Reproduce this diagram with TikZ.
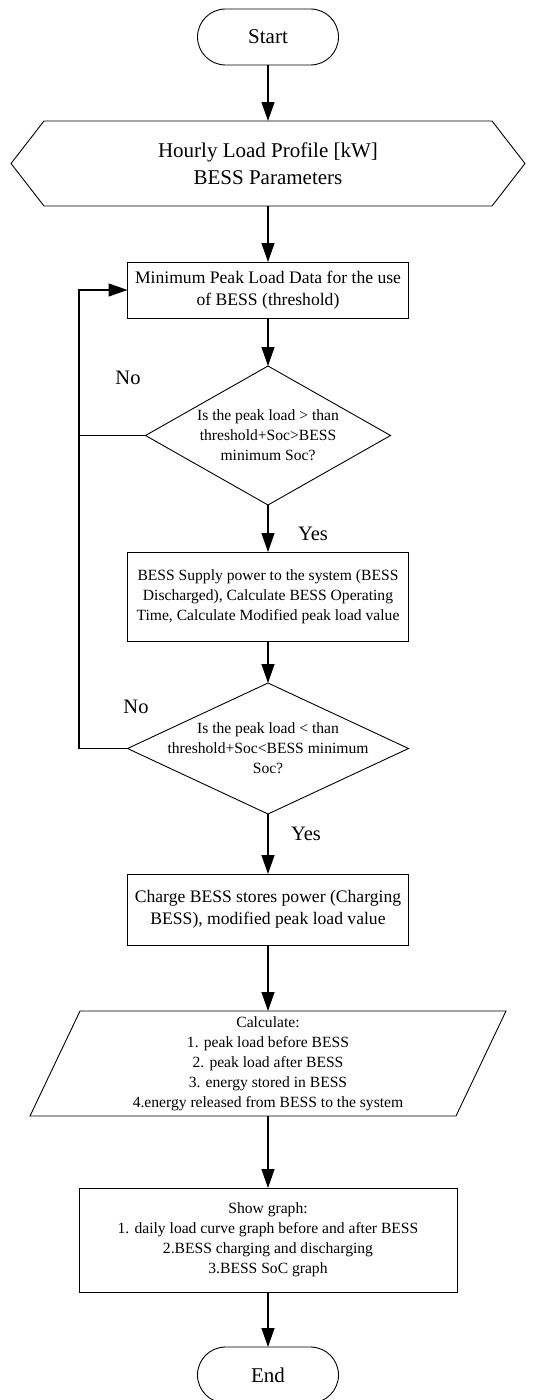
\documentclass[tikz,border=0pt]{standalone}
\usepackage{fontspec}
\setmainfont{Liberation Serif}
\usetikzlibrary{arrows.meta}
\begin{document}
\begin{tikzpicture}[x=1pt,y=-1pt,
  shp/.style={line width=0.9pt},
  ghost/.style={draw=none, inner sep=0pt, outer sep=0pt, align=center},
  stepbox/.style={draw, line width=0.9pt, inner sep=0pt, outer sep=0pt, align=center},
  term/.style={draw, line width=0.9pt, rounded corners=28pt, inner sep=0pt, outer sep=0pt,
    minimum width=141pt, minimum height=56pt, font=\fontsize{21}{26.7}\selectfont},
  big/.style={font=\fontsize{21}{26.7}\selectfont},
  med/.style={font=\fontsize{17.6}{22}\selectfont},
  sml/.style={font=\fontsize{15.6}{20}\selectfont},
  arr/.style={line width=1.3pt, -{Triangle[length=19pt,width=13pt]}},
  lbl/.style={inner sep=0pt, font=\fontsize{20.5}{24}\selectfont}
]
\useasboundingbox[fill=white] (0,0) rectangle (556,1400);

\node[term] (start) at (268,37) {Start};

\node[ghost, big, minimum width=514pt, minimum height=85pt] (hex) at (268,163.5)
  {Hourly Load Profile [kW]\\BESS Parameters};
\draw[shp] ([xshift=33pt]hex.north west) -- ([xshift=-33pt]hex.north east) -- (hex.east)
  -- ([xshift=-33pt]hex.south east) -- ([xshift=33pt]hex.south west) -- (hex.west) -- cycle;

\node[stepbox, med, minimum width=281pt, minimum height=56pt] (box1) at (268,290)
  {Minimum Peak Load Data for the use\\of BESS (threshold)};

\node[ghost, sml, minimum width=245pt, minimum height=139pt] (d1) at (268,435.5)
  {Is the peak load > than\\threshold+Soc>BESS\\minimum Soc?};
\draw[shp] (d1.north) -- (d1.east) -- (d1.south) -- (d1.west) -- cycle;

\node[stepbox, sml, minimum width=281pt, minimum height=89pt] (box2) at (268,596.5)
  {BESS Supply power to the system (BESS\\Discharged), Calculate BESS Operating\\Time, Calculate Modified peak load value};

\node[ghost, sml, minimum width=281pt, minimum height=131pt] (d2) at (268,748.5)
  {Is the peak load < than\\threshold+Soc<BESS minimum\\Soc?};
\draw[shp] (d2.north) -- (d2.east) -- (d2.south) -- (d2.west) -- cycle;

\node[stepbox, med, minimum width=281pt, minimum height=71pt] (box3) at (268,909.5)
  {Charge BESS stores power (Charging\\BESS), modified peak load value};

\node[ghost, sml, minimum width=476pt, minimum height=105pt] (para) at (268,1063.5)
  {Calculate:\\1. peak load before BESS\\2. peak load after BESS\\3. energy stored in BESS\\4.energy released from BESS to the system};
\draw[shp] ([xshift=50pt]para.north west) -- (para.north east) -- ([xshift=-50pt]para.south east)
  -- (para.south west) -- cycle;

\node[stepbox, sml, minimum width=378pt, minimum height=104pt] (box4) at (268,1240)
  {Show graph:\\1. daily load curve graph before and after BESS\\2.BESS charging and discharging\\3.BESS SoC graph};

\node[term] (end) at (268,1375) {End};

\coordinate (lx) at (79,435.5);

\draw[arr] (start.south) -- (hex.north);
\draw[arr] (hex.south) -- (box1.north);
\draw[arr] (box1.south) -- (d1.north);
\draw[arr] (d1.south) -- (box2.north);
\draw[arr] (box2.south) -- (d2.north);
\draw[arr] (d2.south) -- (box3.north);
\draw[arr] (box3.south) -- (para.north);
\draw[arr] (para.south) -- (box4.north);
\draw[arr] (box4.south) -- (end.north);
\draw[arr] (d1.west) -- (lx) |- (box1.west);
\draw[line width=1.3pt] (d2.west) -| (lx);

\node[lbl] (no1) at (128,378) {No};
\node[lbl] (yes1) at (313,534) {Yes};
\node[lbl] (no2) at (136,707) {No};
\node[lbl] (yes2) at (306,834) {Yes};
\end{tikzpicture}
\end{document}
